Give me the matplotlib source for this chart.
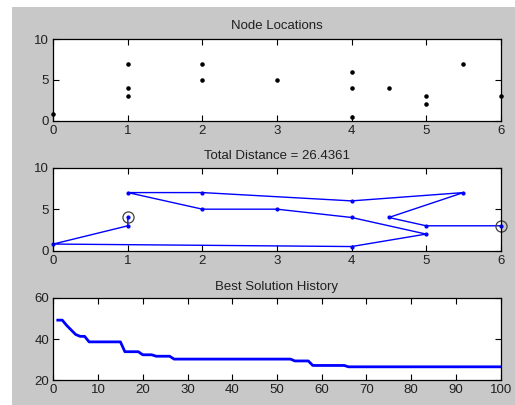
import numpy as np
import matplotlib.pyplot as plt
from matplotlib.patches import Rectangle

# node coordinates
node_x = [0, 1, 1, 1, 2, 2, 3, 4, 4, 4, 4.5, 5, 5, 5.5, 6]
node_y = [0.8, 7, 4, 3, 7, 5, 5, 6, 4, 0.5, 4, 3, 2, 7, 3]

# best route, as node order
route_x = [1, 1, 0, 4, 5, 4, 3, 2, 1, 2, 4, 5.5, 4.5, 5, 6]
route_y = [4, 3, 0.8, 0.5, 2, 4, 5, 5, 7, 7, 6, 7, 4, 3, 3]
total_dist = 26.4361

# best distance per iteration
iters = list(range(1, 101))
best = ([49.2, 49.2, 46.6, 44.4, 42.2, 41.3, 41.3]
        + [38.6] * 8
        + [33.8] * 4
        + [32.3] * 3
        + [31.6] * 4
        + [30.2] * 27
        + [29.3] * 4
        + [27.1] * 8
        + [26.4361] * 35)

plt.rcParams['font.family'] = ['Liberation Sans', 'DejaVu Sans']
gray = '#c8c8c8'
txt = '#202020'

fig = plt.figure(figsize=(5.15, 4.05), dpi=100, facecolor='white')
fig.patches.append(Rectangle((12 / 515, 0), 1, 1 - 7 / 405, transform=fig.transFigure,
                             facecolor=gray, edgecolor='none', zorder=-1))

left, width = 0.1035, 0.8687
ax1 = fig.add_axes([left, 0.702, width, 0.2017])
ax2 = fig.add_axes([left, 0.381, width, 0.205])
ax3 = fig.add_axes([left, 0.0617, width, 0.2025])

for ax in (ax1, ax2, ax3):
    ax.set_facecolor('white')
    ax.tick_params(direction='in', length=4, width=0.8, top=True, right=True,
                   labelsize=9.5, labelcolor=txt, pad=3)
    for s in ax.spines.values():
        s.set_linewidth(0.9)
        s.set_color('black')

ax1.plot(node_x, node_y, 'k.', markersize=4.5, clip_on=False)
ax1.set_xlim(0, 6)
ax1.set_ylim(0, 10)
ax1.set_yticks([0, 5, 10])
ax1.set_title('Node Locations', fontsize=9.5, color=txt, pad=7)

ax2.plot(route_x, route_y, '.-', color='#0000ff', linewidth=1, markersize=4, clip_on=False)
ax2.plot([route_x[0], route_x[-1]], [route_y[0], route_y[-1]], 'o', markersize=8,
         markerfacecolor='none', markeredgecolor='#404040', markeredgewidth=0.9, clip_on=False)
ax2.set_xlim(0, 6)
ax2.set_ylim(0, 10)
ax2.set_yticks([0, 5, 10])
ax2.set_title(f'Total Distance = {total_dist:.4f}', fontsize=9.5, color=txt, pad=6)

ax3.plot(iters, best, color='#0000ff', linewidth=2)
ax3.set_xlim(0, 100)
ax3.set_ylim(20, 60)
ax3.set_xticks(range(0, 101, 10))
ax3.set_yticks([20, 40, 60])
ax3.set_title('Best Solution History', fontsize=9.5, color=txt, pad=6)

fig.savefig('out.png', dpi=100, facecolor='white')
